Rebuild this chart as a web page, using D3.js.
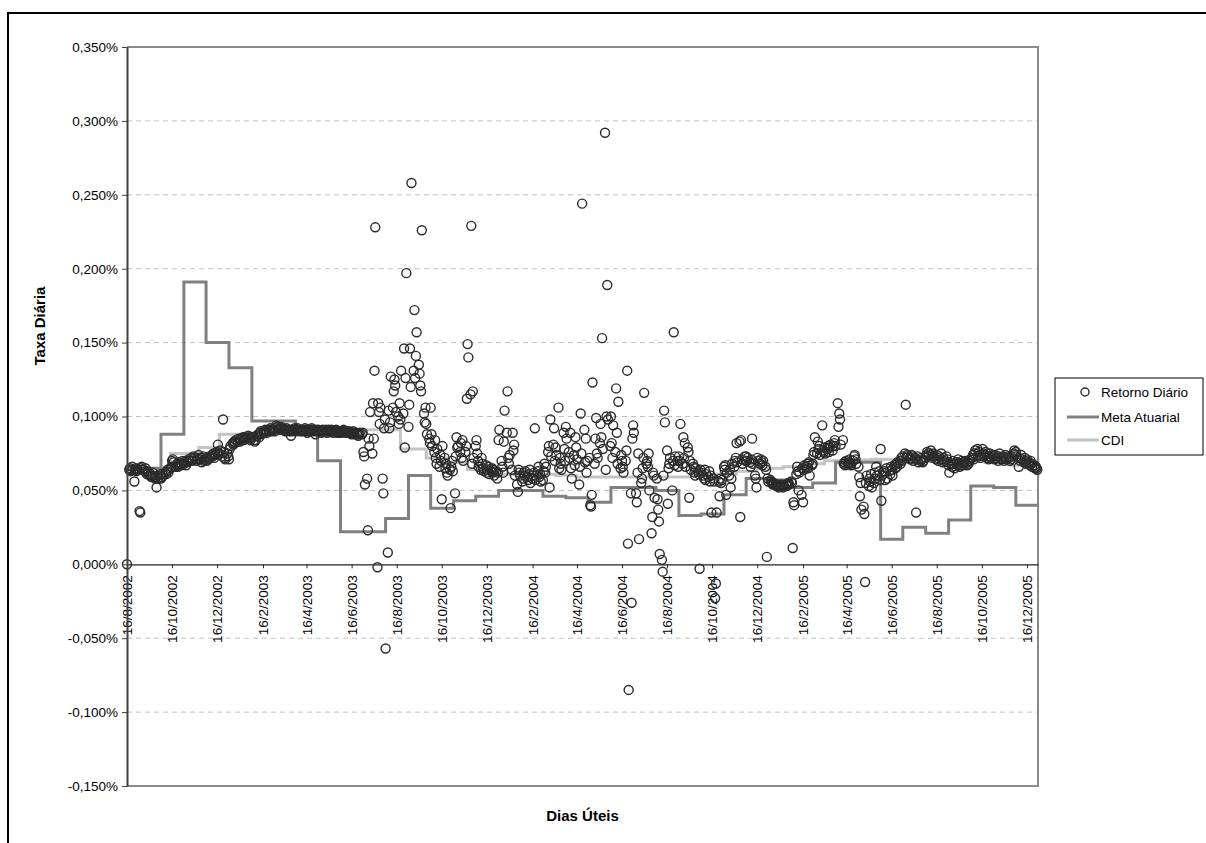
<!DOCTYPE html>
<html>
<head>
<meta charset="utf-8">
<script src="https://cdn.jsdelivr.net/npm/d3@7"></script>
<style>
body { margin: 0; background: #fff; }
text { font-family: "Liberation Sans", Arial, sans-serif; }
</style>
</head>
<body>
<div id="graph"></div>
<script>
// Retorno Diário, um valor por dia útil, em milésimos de % (64 = 0,064%)
var ret2002 = [
  0, 64, 65, 63, 64, 66, 56, 64, 65, 63, 64,
  36, 35, 65, 66, 64, 63, 65, 62, 61, 63, 60, 61, 59, 60, 62, 58, 59, 52, 60, 58, 61,
  58, 59, 61, 60, 62, 61, 63, 64, 62, 65, 66, 70, 71, 69, 66, 67, 68, 66, 69, 67, 68, 70, 69,
  68, 67, 70, 69, 71, 70, 72, 70, 71, 73, 72, 70, 71, 72, 74, 71, 69, 72, 73, 70, 71,
  70, 72, 71, 73, 72, 74, 73, 75, 72, 74, 76, 81, 74, 75, 77, 73, 98, 76, 72, 71, 75, 73
];
var ret2003 = [
  71, 78, 80, 82, 81, 83, 82, 84, 83, 85, 84, 83, 85, 86, 84, 85, 86, 85, 87, 86, 85, 84, 86,
  86, 84, 83, 84, 87, 88, 86, 89, 90, 88, 89, 90, 91, 90, 89, 91, 90, 92, 91, 90,
  91, 90, 92, 94, 93, 92, 91, 92, 93, 92, 91, 90, 91, 92, 91, 90, 91, 87, 90, 91, 92,
  91, 90, 91, 92, 91, 90, 91, 90, 91, 92, 91, 90, 89, 91, 90, 91, 92, 91, 90, 88, 91, 90,
  90, 91, 90, 89, 90, 91, 90, 91, 90, 89, 90, 91, 90, 91, 90, 89, 90, 91, 90, 89, 90, 89,
  90, 89, 90, 91, 90, 89, 90, 89, 90, 89, 88, 89, 90, 89, 88, 89, 88, 87, 88, 89, 88,
  89, 76, 73, 54, 58, 23, 85, 80, 103, 75, 109, 85, 131, 228, -2, 109, 103, 95, 106, 58, 48, 92, 98,
  -57, 8, 104, 92, 96, 127, 106, 117, 125, 121, 103, 100, 95, 109, 98, 131, 102, 146, 79, 126, 197,
  93, 108, 146, 120, 258, 131, 172, 126, 141, 157, 135, 129, 121, 117, 226, 102, 96, 106, 95, 88, 85, 82,
  106, 88, 80, 76, 84, 72, 68, 78, 66, 74, 70, 44, 80, 72, 65, 68, 62, 60, 64, 38, 66, 70, 63,
  48, 73, 86, 79, 80, 76, 82, 72, 84, 70, 76, 80, 112, 149, 140, 115, 229, 68, 117, 72,
  80, 84, 75, 70, 66, 64, 72, 68, 65, 63, 67, 62, 64, 66, 61, 63, 65, 62, 64, 60, 63, 58, 62
];
var ret2004 = [
  84, 91, 70, 66, 62, 83, 104, 89, 117, 72, 68, 74, 64, 89, 77, 81, 60, 54, 49, 64, 62, 60,
  56, 58, 62, 60, 63, 59, 57, 61, 64, 55, 58, 60, 62, 92, 57, 63, 66, 59, 61, 56,
  57, 63, 68, 62, 66, 76, 80, 52, 98, 73, 81, 92, 70, 79, 74, 106, 65, 72, 68, 64, 89, 78, 70,
  93, 85, 76, 72, 89, 65, 58, 74, 67, 86, 79, 71, 54, 66, 102, 75, 244, 91, 69, 85, 62, 70,
  72, 40, 39, 47, 123, 68, 85, 99, 75, 72, 82, 95, 86, 153, 78, 292, 64, 100, 189, 98, 80,
  100, 82, 72, 94, 76, 119, 89, 68, 110, 65, 74, 70, 66, 62, 70, 77, 131, 14, -85, 48, -26, 85,
  94, 89, 48, 42, 62, 75, 17, 55, 58, 65, 72, 116, 68, 70, 66, 75, 50, 21, 32, 62, 60, 45,
  58, 44, 37, 29, 7, 3, -5, 60, 104, 96, 77, 41, 65, 68, 72, 50, 70, 157, 67, 73, 70, 66,
  73, 70, 95, 68, 86, 72, 82, 66, 79, 76, 45, 70, 64, 68, 66, 62, 60, 65, 63, 61, -3, 64,
  62, 60, 58, 64, 57, 61, 59, 63, 56, 60, 35, 58, 56, -23, -13, 35, 56, 46, 58, 55, 57,
  66, 64, 67, 47, 62, 60, 64, 52, 58, 68, 66, 70, 72, 82, 69, 83, 32, 84, 71, 68, 73, 70,
  73, 70, 72, 69, 66, 71, 85, 68, 60, 58, 52, 72, 70, 68, 71, 69, 67, 70, 66, 64, 5, 58, 56
];
var ret2005 = [
  57, 56, 55, 54, 55, 54, 53, 54, 53, 52, 53, 54, 53, 52, 53, 54, 53, 54, 55, 54, 56,
  55, 11, 42, 40, 61, 66, 63, 50, 62, 47, 65, 42, 64, 67, 66, 68, 65, 69, 60, 67,
  68, 74, 76, 86, 75, 83, 78, 80, 74, 94, 77, 76, 79, 75, 78, 80, 76, 79, 81, 77, 80, 82, 84,
  80, 109, 93, 102, 98, 81, 84, 68, 69, 67, 70, 68, 69, 71, 68, 67, 70, 73, 74, 71, 68,
  66, 59, 46, 55, 37, 39, 34, -12, 55, 60, 53, 58, 56, 61, 52, 55, 62, 58, 66, 60, 63, 57,
  78, 43, 60, 63, 57, 62, 65, 58, 63, 61, 66, 64, 60, 67, 65, 68, 66, 69, 70, 68, 72, 70,
  73, 75, 108, 72, 74, 73, 71, 72, 74, 73, 70, 72, 35, 71, 73, 69, 70, 72, 71, 69, 70,
  72, 74, 76, 73, 75, 77, 74, 72, 75, 73, 71, 74, 72, 70, 73, 75, 71, 69, 72, 70, 73, 71, 69,
  67, 62, 68, 66, 70, 68, 65, 69, 67, 71, 68, 66, 70, 67, 69, 68, 70, 67, 69, 68, 70, 71,
  72, 74, 71, 75, 77, 78, 73, 76, 74, 72, 78, 75, 73, 74, 76, 72, 71, 73, 75, 72, 74,
  73, 71, 74, 72, 70, 73, 75, 72, 71, 73, 70, 72, 74, 71, 73, 72, 70, 71, 73, 75, 77, 74,
  76, 73, 66, 72, 70, 74, 71, 69, 72, 70, 68, 71, 69, 67, 70, 68, 66, 67, 65, 66, 65, 64
];

// Meta Atuarial, taxa diária em %, um valor por mês (ago/2002 a dez/2005)
var metaValues = [
  0.064, 0.065, 0.088, 0.191, 0.150,
  0.133, 0.097, 0.097, 0.093, 0.070, 0.022, 0.022, 0.031, 0.060, 0.038, 0.043, 0.046,
  0.050, 0.050, 0.046, 0.045, 0.042, 0.052, 0.052, 0.050, 0.033, 0.034, 0.047, 0.058,
  0.057, 0.052, 0.055, 0.069, 0.069, 0.017, 0.025, 0.021, 0.030, 0.053, 0.052, 0.040
];

// CDI, taxa diária em %, datas de mudança
var cdiDates = ["2002-08-16", "2002-10-14", "2002-11-21", "2002-12-19", "2003-02-20",
  "2003-08-21", "2003-09-25", "2003-10-23", "2003-11-20", "2003-12-18", "2004-03-18",
  "2004-04-15", "2004-09-16", "2004-10-21", "2004-11-18", "2004-12-16", "2005-01-20",
  "2005-02-17", "2005-03-17", "2005-04-20", "2005-05-19", "2005-09-15", "2005-10-20",
  "2005-11-24", "2005-12-15"];
var cdiValues = [0.065, 0.075, 0.079, 0.088, 0.091, 0.078, 0.072, 0.069, 0.064, 0.061, 0.060,
  0.059, 0.060, 0.061, 0.063, 0.065, 0.066, 0.068, 0.070, 0.0705, 0.071, 0.0705, 0.069,
  0.067, 0.066];

var yTicks = [-0.15, -0.10, -0.05, 0, 0.05, 0.10, 0.15, 0.20, 0.25, 0.30, 0.35];
var xTickLabels = ["16/8/2002", "16/10/2002", "16/12/2002", "16/2/2003", "16/4/2003", "16/6/2003",
  "16/8/2003", "16/10/2003", "16/12/2003", "16/2/2004", "16/4/2004", "16/6/2004", "16/8/2004",
  "16/10/2004", "16/12/2004", "16/2/2005", "16/4/2005", "16/6/2005", "16/8/2005", "16/10/2005",
  "16/12/2005"];
var legendLabels = ["Retorno Diário", "Meta Atuarial", "CDI"];

var svgWidth = 1206;
var svgHeight = 843;
var plotLeft = 127, plotRight = 1038, plotTop = 47, plotBottom = 786;

var pointColor = "#2b2b2b";
var metaColor = "#808080";
var cdiColor = "#c4c4c4";
var fontSize = 13.5;
var titleSize = 15;

var parseDate = d3.timeParse("%Y-%m-%d");
var parseLabel = d3.timeParse("%d/%m/%Y");
var startDate = new Date(2002, 7, 16);
var endDate = new Date(2005, 11, 31);

var ptBR = d3.formatLocale({decimal: ",", thousands: ".", grouping: [3], currency: ["R$", ""], minus: "-"});
var fmtPct = ptBR.format(".3f");

var $svg = d3.select("#graph")
    .append("svg")
    .attr("width", svgWidth)
    .attr("height", svgHeight);

var x = d3.scaleTime().domain([startDate, endDate]).range([plotLeft, plotRight]);
var y = d3.scaleLinear().domain([-0.15, 0.35]).range([plotBottom, plotTop]);

// dias úteis a partir de uma data
function weekdays(start, n){
    var out = [], d = start;
    while (out.length < n){
        var w = d.getDay();
        if (w !== 0 && w !== 6) out.push(d);
        d = d3.timeDay.offset(d, 1);
    }
    return out;
}

var retorno = [];
[[startDate, ret2002], [new Date(2003,0,1), ret2003], [new Date(2004,0,1), ret2004], [new Date(2005,0,1), ret2005]]
    .forEach(function(p){
        var days = weekdays(p[0], p[1].length);
        p[1].forEach(function(v, i){ retorno.push({date: days[i], value: v/1000}); });
    });

var meta = metaValues.map(function(v, i){
    return {date: i === 0 ? startDate : new Date(2002, 7 + i, 1), value: v};
});
meta.push({date: endDate, value: metaValues[metaValues.length-1]});

var cdi = cdiValues.map(function(v, i){ return {date: parseDate(cdiDates[i]), value: v}; });
cdi.push({date: endDate, value: cdiValues[cdiValues.length-1]});

// borda externa
$svg.append("path")
    .attr("d", `M 8,${svgHeight+5} L 8,13 L ${svgWidth+5},13`)
    .attr("fill", "none")
    .attr("stroke", "#000")
    .attr("stroke-width", 2);

// grade
$svg.append("g")
    .selectAll("line")
    .data(yTicks.filter(function(d){ return d > -0.15 && d < 0.35 && d !== 0; }))
    .join("line")
    .attr("x1", plotLeft).attr("x2", plotRight)
    .attr("y1", function(d){ return y(d); }).attr("y2", function(d){ return y(d); })
    .attr("stroke", "#c0c0c0")
    .attr("stroke-width", 1)
    .attr("stroke-dasharray", "5,4");

// moldura da área de plotagem
$svg.append("path")
    .attr("d", `M ${plotLeft},${plotTop} L ${plotRight},${plotTop} L ${plotRight},${plotBottom} L ${plotLeft},${plotBottom}`)
    .attr("fill", "none")
    .attr("stroke", "#8a8a8a")
    .attr("stroke-width", 2);

// linhas
var stepLine = d3.line()
    .x(function(d){ return x(d.date); })
    .y(function(d){ return y(d.value); })
    .curve(d3.curveStepAfter);

$svg.append("path")
    .datum(cdi)
    .attr("d", stepLine)
    .attr("fill", "none")
    .attr("stroke", cdiColor)
    .attr("stroke-width", 3);

$svg.append("path")
    .datum(meta)
    .attr("d", stepLine)
    .attr("fill", "none")
    .attr("stroke", metaColor)
    .attr("stroke-width", 3);

// eixo x na linha do zero
var xAxis = d3.axisBottom(x)
    .tickValues(xTickLabels.map(parseLabel))
    .tickSize(4)
    .tickSizeOuter(0)
    .tickFormat(d3.timeFormat("%-d/%-m/%Y"));

var $xAxis = $svg.append("g")
    .attr("transform", `translate(0,${y(0)})`)
    .call(xAxis);
$xAxis.select(".domain").attr("stroke", "#222").attr("stroke-width", 1.3);
$xAxis.selectAll(".tick line").attr("stroke", "#222");
$xAxis.selectAll("text")
    .attr("transform", "rotate(-90)")
    .attr("text-anchor", "end")
    .attr("x", -11)
    .attr("y", 0)
    .attr("dy", "0.35em")
    .attr("fill", "#000")
    .style("font-size", fontSize + "px")
    .style("font-family", "'Liberation Sans', Arial, sans-serif");

// pontos
$svg.append("g")
    .selectAll("circle")
    .data(retorno)
    .join("circle")
    .attr("cx", function(d){ return x(d.date); })
    .attr("cy", function(d){ return y(d.value); })
    .attr("r", 4.5)
    .attr("fill", "none")
    .attr("stroke", pointColor)
    .attr("stroke-width", 1.4);

// eixo y
var yAxis = d3.axisLeft(y)
    .tickValues(yTicks)
    .tickSize(5)
    .tickSizeOuter(0)
    .tickFormat(function(d){ return fmtPct(d) + "%"; });

var $yAxis = $svg.append("g")
    .attr("transform", `translate(${plotLeft},0)`)
    .call(yAxis);
$yAxis.select(".domain").attr("stroke", "#404040").attr("stroke-width", 2);
$yAxis.selectAll(".tick line").attr("stroke", "#404040");
$yAxis.selectAll("text")
    .attr("x", -9)
    .attr("fill", "#000")
    .style("font-size", fontSize + "px")
    .style("font-family", "'Liberation Sans', Arial, sans-serif");

// títulos
$svg.append("text")
    .attr("transform", "translate(45,326) rotate(-90)")
    .attr("text-anchor", "middle")
    .attr("font-weight", "bold")
    .attr("font-size", titleSize)
    .text("Taxa Diária");

$svg.append("text")
    .attr("x", (plotLeft + plotRight)/2)
    .attr("y", 821)
    .attr("text-anchor", "middle")
    .attr("font-weight", "bold")
    .attr("font-size", titleSize)
    .text("Dias Úteis");

// legenda
var $legend = $svg.append("g").attr("transform", "translate(1055,378)");
$legend.append("rect")
    .attr("width", 148).attr("height", 77)
    .attr("fill", "#fff").attr("stroke", "#000").attr("stroke-width", 1);

var legendY = [14, 39, 62];
$legend.append("circle")
    .attr("cx", 30).attr("cy", legendY[0]).attr("r", 4)
    .attr("fill", "none").attr("stroke", pointColor).attr("stroke-width", 1.4);
$legend.append("line")
    .attr("x1", 12).attr("x2", 44).attr("y1", legendY[1]).attr("y2", legendY[1])
    .attr("stroke", metaColor).attr("stroke-width", 3);
$legend.append("line")
    .attr("x1", 12).attr("x2", 44).attr("y1", legendY[2]).attr("y2", legendY[2])
    .attr("stroke", cdiColor).attr("stroke-width", 3);

$legend.selectAll("text.lbl")
    .data(legendLabels)
    .join("text")
    .attr("class", "lbl")
    .attr("x", 46)
    .attr("y", function(d, i){ return legendY[i]; })
    .attr("dy", "0.35em")
    .attr("font-size", fontSize)
    .text(function(d){ return d; });
</script>
</body>
</html>
